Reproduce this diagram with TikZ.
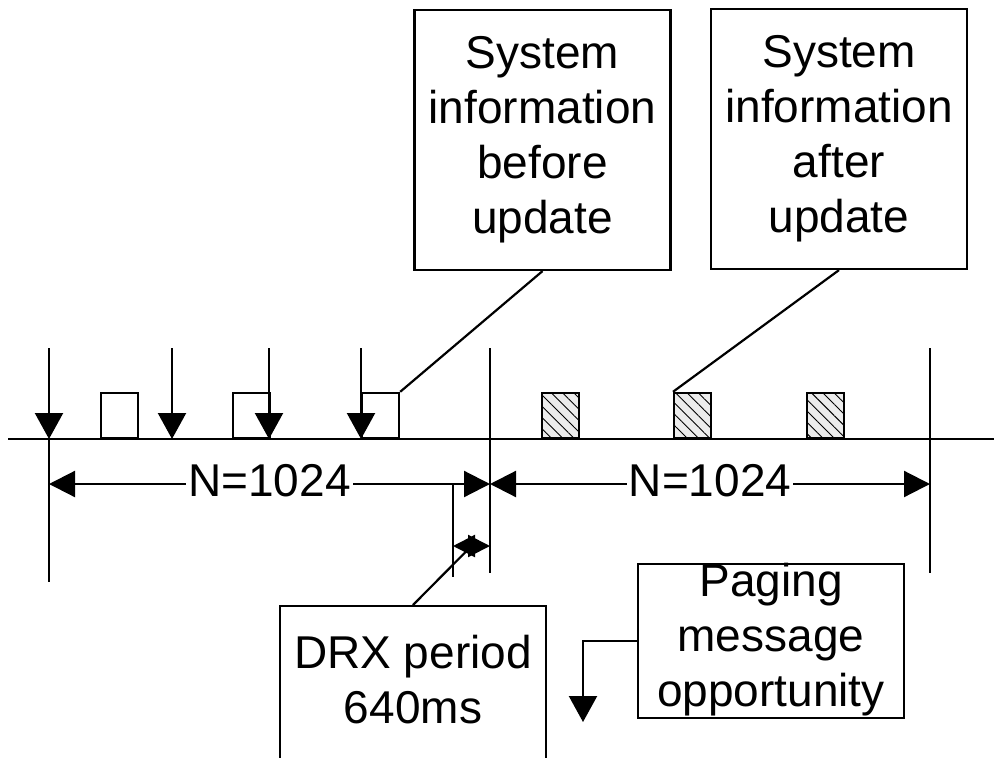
\documentclass[tikz,border=0pt]{standalone}
\usepackage{fontspec}
\setmainfont{Liberation Sans}
\usetikzlibrary{arrows.meta,patterns.meta}
\begin{document}
\begin{tikzpicture}[x=1pt,y=-1pt,line width=2.2pt,
  tip/.style={-{Triangle[length=26pt,width=28pt]}},
  dtip/.style={{Triangle[length=26pt,width=26pt]}-{Triangle[length=26pt,width=26pt]}},
  stip/.style={{Triangle[length=22pt,width=22pt]}-{Triangle[length=22pt,width=22pt]}},
  lbl/.style={font=\fontsize{46}{55}\selectfont, align=center, inner sep=0pt},
  infobox/.style={draw, minimum width=256pt, minimum height=260pt, inner sep=0pt, lbl},
  plainbox/.style={draw, minimum width=266pt, inner sep=0pt},
  slot/.style={draw, fill=white, minimum width=37pt, minimum height=45pt, inner sep=0pt, anchor=south west},
  hslot/.style={slot, fill=gray!15, postaction={pattern={Lines[angle=-45,distance=8pt,line width=0.9pt]}}},
]
\clip (0,0) rectangle (994,758);
\fill[white] (0,0) rectangle (994,758);
% time line
\coordinate (tl) at (8,439);
\coordinate (tr) at (994,439);
% slots
\node[slot] (w1) at (100,439) {};
\node[slot] (w2) at (232,439) {};
\node[slot] (w3) at (361,439) {};
\node[hslot] (h1) at (541,439) {};
\node[hslot] (h2) at (673,439) {};
\node[hslot] (h3) at (806,439) {};
\draw (tl) -- (tr);
% paging arrows
\foreach \x [count=\i] in {49,172,269,361}{
  \coordinate (pa\i) at (\x,348);
  \coordinate (pb\i) at (\x,439);
  \draw[tip] (pa\i) -- (pb\i);
}
% vertical period boundaries
\coordinate (v1b) at (49,582);
\draw (pb1) -- (v1b);
\coordinate (v2t) at (490,348); \coordinate (v2b) at (490,573);
\draw (v2t) -- (v2b);
\coordinate (v3t) at (930,348); \coordinate (v3b) at (930,573);
\draw (v3t) -- (v3b);
\coordinate (v4t) at (453,484); \coordinate (v4b) at (453,577);
\draw (v4t) -- (v4b);
% N=1024 dimensions
\coordinate (d1a) at (49,484); \coordinate (d1b) at (490,484); \coordinate (d1c) at (930,484);
\draw[dtip] (d1a) -- node[lbl, fill=white, inner xsep=2pt, yshift=3pt] (n1) {N=1024} (d1b);
\draw[dtip] (d1b) -- node[lbl, fill=white, inner xsep=2pt, yshift=3pt] (n2) {N=1024} (d1c);
% DRX dimension
\coordinate (dxa) at (453,546); \coordinate (dxb) at (490,546);
\draw[stip] (dxa) -- (dxb);
\coordinate (dm) at (471.5,546);
% info boxes
\node[infobox] (b1) at (542.5,140) {System\\information\\before\\update};
\node[infobox] (b2) at (839,139) {System\\information\\after\\update};
\draw (b1.south) -- (w3.north east);
\draw (b2.south) -- (h2.north west);
% DRX box
\node[plainbox, minimum height=200pt, anchor=north] (drx) at (413,605) {};
\node[lbl] (drxt) at (413,679.5) {DRX period\\640ms};
\draw (drx.north) -- (dm);
% paging box
\node[plainbox, minimum height=154pt] (pg) at (771,641) {};
\node[lbl] (pgt) at (771,640) {Paging\\message\\opportunity};
\coordinate (pgd) at (583,722);
\draw[tip] (pg.west) -| (pgd);
\end{tikzpicture}
\end{document}
